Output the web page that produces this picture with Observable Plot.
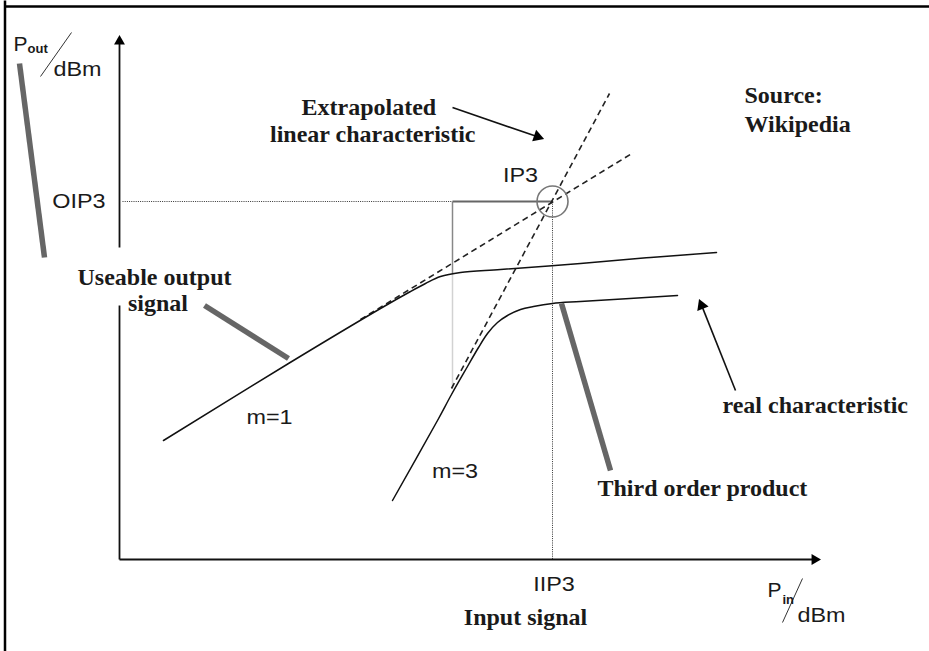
<!DOCTYPE html>
<html>
<head>
<meta charset="utf-8">
<script src="https://cdn.jsdelivr.net/npm/d3@7"></script>
<script src="https://cdn.jsdelivr.net/npm/@observablehq/plot@0.6"></script>
<style>
  html, body { margin: 0; padding: 0; background: #fff; }
  #chart svg { display: block; }
</style>
</head>
<body>
<div id="chart"></div>
<script>
// Diagram units: x = input power (Pin), y = output power (Pout), origin at axis corner.
const upperCurve = [
  [4.4, 11.9], [16.9, 19.6], [26.1, 25.1], [29.1, 26.8], [30.6, 27.6],
  [32.1, 28.3], [34.1, 28.7], [38.1, 29.0], [46.1, 29.6], [53.1, 30.2], [59.7, 30.7]
];
const lowerCurve = [
  [27.3, 5.9], [31.8, 13.9], [33.2, 16.5], [34.8, 19.3], [35.9, 21.2], [36.8, 22.6],
  [37.8, 23.7], [38.8, 24.4], [40.1, 25.0], [41.4, 25.3], [43.3, 25.6], [46.1, 25.8], [55.8, 26.4]
];
const extrapolations = [
  {name: "m=1", x1: 24.1, y1: 24.0, x2: 51.4, y2: 40.7},
  {name: "m=3", x1: 33.2, y1: 17.1, x2: 49.0, y2: 46.6}
];
const ip3 = {x: 43.3, y: 35.8};
const oip3Guide = [{x1: 0.3, y1: 35.8, x2: 33.3, y2: 35.8}, {x1: 43.3, y1: 35.8, x2: 43.3, y2: 0}];
const boxTop = [{x1: 33.3, y1: 35.8, x2: 43.3, y2: 35.8}];
const boxSideUpper = [{x1: 33.3, y1: 35.8, x2: 33.3, y2: 28.6}];
const boxSideLower = [{x1: 33.3, y1: 28.6, x2: 33.3, y2: 17.1}];
const axisSegments = [
  {x1: 0, y1: 0, x2: 0, y2: 25.4},
  {x1: 0, y1: 31.2, x2: 0, y2: 51.8},
  {x1: 0, y1: 0, x2: 69.5, y2: 0}
];
const axisTips = [
  {x1: 0, y1: 40, x2: 0, y2: 52.6},
  {x1: 60, y1: 0, x2: 70.3, y2: 0}
];
const calloutArrows = [
  {x1: 33.3, y1: 45.2, x2: 42.6, y2: 42.0},
  {x1: 61.6, y1: 16.9, x2: 57.9, y2: 26.2}
];
const pointers = [
  {x1: -10.0, y1: 49.6, x2: -7.5, y2: 30.2},
  {x1: 8.5, y1: 25.4, x2: 16.9, y2: 20.1},
  {x1: 44.2, y1: 25.6, x2: 49.1, y2: 8.9}
];
const unitSlashes = [
  {x1: -7.9, y1: 48.3, x2: -4.8, y2: 52.7},
  {x1: 66.3, y1: -6.3, x2: 68.3, y2: -1.9}
];
const frameLines = [
  {x1: -11.45, y1: 55.9, x2: -11.45, y2: -9.2},
  {x1: -11.45, y1: 55.3, x2: 81.0, y2: 55.3}
];
const serifStart = [
  {text: "Extrapolated", x: 18.2, y: 44.5},
  {text: "Source:", x: 62.5, y: 45.7},
  {text: "Wikipedia", x: 62.5, y: 42.8},
  {text: "real characteristic", x: 60.3, y: 14.7},
  {text: "Third order product", x: 47.8, y: 6.4}
];
const serifEnd = [
  {text: "linear characteristic", x: 35.6, y: 41.8}
];
const serifMiddle = [
  {text: "Useable output", x: 3.5, y: 27.5},
  {text: "signal", x: 3.85, y: 24.9},
  {text: "Input signal", x: 40.6, y: -6.5}
];
const sansMiddle = [
  {text: "IP3", x: 40.1, y: 37.8},
  {text: "IIP3", x: 43.45, y: -3.1},
  {text: "m=1", x: 15.0, y: 13.6},
  {text: "m=3", x: 33.55, y: 8.2}
];
const sansEnd = [{text: "OIP3", x: -1.4, y: 35.2}];
const sansStart = [
  {text: "dBm", x: -6.6, y: 48.4},
  {text: "dBm", x: 67.8, y: -6.2}
];
const powerSymbols = [
  {text: "P", x: -10.6, y: 50.9},
  {text: "P", x: 64.8, y: -3.7}
];
const subscripts = [
  {text: "out", x: -9.2, y: 50.7},
  {text: "in", x: 66.3, y: -4.4}
];

// filled arrowhead placed so its tip sits at (x2, y2); x and y share the same px/unit
function heads(segs, back) {
  return segs.map(d => {
    const dx = d.x2 - d.x1, dy = d.y2 - d.y1, L = Math.hypot(dx, dy);
    return {x: d.x2 - dx / L * back, y: d.y2 - dy / L * back, rotate: Math.atan2(dx, dy) * 180 / Math.PI};
  });
}
function shorten(segs, by) {
  return segs.map(d => {
    const dx = d.x2 - d.x1, dy = d.y2 - d.y1, L = Math.hypot(dx, dy);
    return {...d, x2: d.x2 - dx / L * by, y2: d.y2 - dy / L * by};
  });
}

const serif = "Liberation Serif, Times New Roman, serif";
const sans = "Liberation Sans, Arial, sans-serif";
const link = (data, o) => Plot.link(data, {x1: "x1", y1: "y1", x2: "x2", y2: "y2", ...o});
const txt = (data, o) => Plot.text(data, {x: "x", y: "y", text: "text", lineAnchor: "bottom", fill: "#1a1a1a", ...o});

const chart = Plot.plot({
  width: 929,
  height: 651,
  margin: 0,
  x: {domain: [-11.9, 81.0], range: [0, 929], axis: null},
  y: {domain: [-9.2, 55.9], range: [651, 0], axis: null},
  style: {background: "#fff", overflow: "visible"},
  marks: [
    link(frameLines, {stroke: "#000", strokeWidth: 2.5}),
    link(oip3Guide, {stroke: "#333", strokeWidth: 1, strokeDasharray: "1,1.2"}),
    link(boxSideLower, {stroke: "#d2d2d2", strokeWidth: 1.5}),
    link(boxSideUpper, {stroke: "#888", strokeWidth: 1.5}),
    link(boxTop, {stroke: "#666", strokeWidth: 2}),
    link(extrapolations, {stroke: "#222", strokeWidth: 1.6, strokeDasharray: "6,4"}),
    Plot.line(upperCurve, {x: d => d[0], y: d => d[1], curve: "catmull-rom", stroke: "#111", strokeWidth: 1.5}),
    Plot.line(lowerCurve, {x: d => d[0], y: d => d[1], curve: "catmull-rom", stroke: "#111", strokeWidth: 1.5}),
    Plot.dot([ip3], {x: "x", y: "y", r: 15.5, stroke: "#777", strokeWidth: 1.6, fill: "none"}),
    link(axisSegments, {stroke: "#111", strokeWidth: 1.8}),
    Plot.dot(heads(axisTips, 0.78), {x: "x", y: "y", rotate: "rotate", symbol: "triangle2", r: 5.2, fill: "#000"}),
    link(shorten(calloutArrows, 0.9), {stroke: "#111", strokeWidth: 1.6}),
    Plot.dot(heads(calloutArrows, 0.85), {x: "x", y: "y", rotate: "rotate", symbol: "triangle2", r: 5.8, fill: "#000"}),
    link(pointers, {stroke: "#666", strokeWidth: 5.5}),
    link(unitSlashes, {stroke: "#333", strokeWidth: 1}),
    txt(serifStart, {textAnchor: "start", fontFamily: serif, fontWeight: "bold", fontSize: 24}),
    txt(serifEnd, {textAnchor: "end", fontFamily: serif, fontWeight: "bold", fontSize: 24}),
    txt(serifMiddle, {textAnchor: "middle", fontFamily: serif, fontWeight: "bold", fontSize: 24}),
    txt(sansMiddle, {textAnchor: "middle", fontFamily: sans, fontSize: 20}),
    txt(sansEnd, {textAnchor: "end", fontFamily: sans, fontSize: 20}),
    txt(sansStart, {textAnchor: "start", fontFamily: sans, fontSize: 20}),
    txt(powerSymbols, {textAnchor: "start", fontFamily: sans, fontSize: 21}),
    txt(subscripts, {textAnchor: "start", fontFamily: sans, fontWeight: "bold", fontSize: 13})
  ]
});

// the reference's sans labels are set in a horizontally widened face
chart.querySelectorAll('g[font-size="20"] text').forEach(t => {
  let tr = t.getAttribute("transform") || "";
  if (t.hasAttribute("x") || t.hasAttribute("y")) {
    const x = +(t.getAttribute("x") || 0), y = +(t.getAttribute("y") || 0);
    t.removeAttribute("x"); t.removeAttribute("y");
    tr = `${tr} translate(${x},${y})`;
  }
  t.setAttribute("transform", `${tr} scale(1.17,1)`);
});
document.getElementById("chart").appendChild(chart);
</script>
</body>
</html>
